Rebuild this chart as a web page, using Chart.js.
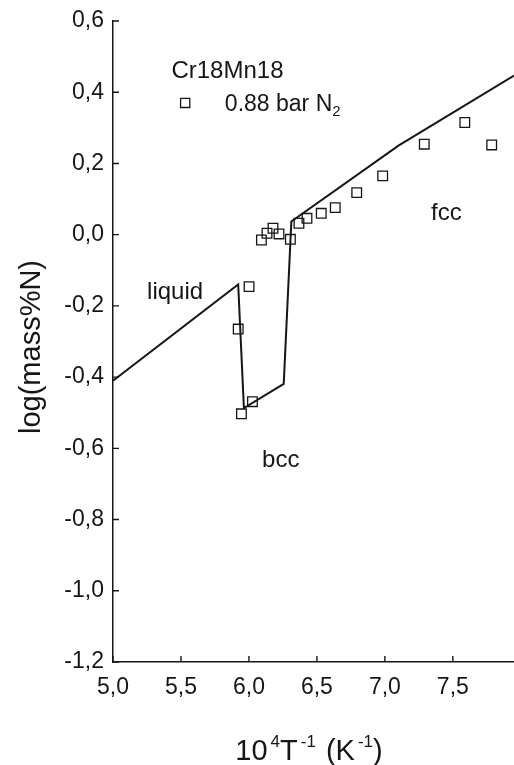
<!DOCTYPE html>
<html>
<head>
<meta charset="utf-8">
<script src="https://cdn.jsdelivr.net/npm/chart.js@4/dist/chart.umd.min.js"></script>
<style>
  html, body { margin: 0; padding: 0; background: #fff; overflow: hidden; }
  #wrap { width: 514px; height: 765px; }
</style>
</head>
<body>
<div id="wrap"><canvas id="chart"></canvas></div>
<script>
// calculated curve: liquid -> bcc -> fcc
const curveT = [5.0, 5.921, 5.963, 6.256, 6.312, 7.1, 7.95];
const curveN = [-0.41, -0.140, -0.487, -0.419, 0.037, 0.250, 0.447];

// measurements, Cr18Mn18 at 0.88 bar N2
const measT = [5.921, 6.001, 5.945, 6.026, 6.092, 6.133, 6.177, 6.221, 6.305,
               6.368, 6.427, 6.532, 6.635, 6.793, 6.984, 7.290, 7.588, 7.786];
const measN = [-0.265, -0.146, -0.503, -0.469, -0.015, 0.004, 0.018, 0.002, -0.013,
               0.032, 0.046, 0.060, 0.076, 0.118, 0.165, 0.254, 0.315, 0.252];

const xTicks = [5.0, 5.5, 6.0, 6.5, 7.0, 7.5];
const yTicks = [-1.2, -1.0, -0.8, -0.6, -0.4, -0.2, 0.0, 0.2, 0.4, 0.6];

// phase labels, placed in data units
const phaseLabels = [
    { text: 'liquid', x: 5.457, y: -0.163 },
    { text: 'bcc', x: 6.234, y: -0.633 },
    { text: 'fcc', x: 7.452, y: 0.061 }
];

const FONT = '"Liberation Sans", Arial, sans-serif';
const INK = '#161616';

const comma = v => (Math.abs(v) < 1e-9 ? 0 : v).toFixed(1).replace('.', ',');

// ticks pointing into the plot area
const innerTicks = {
    id: 'innerTicks',
    afterDatasetsDraw(chart) {
        const { ctx, chartArea: a, scales: { x, y } } = chart;
        ctx.save();
        ctx.strokeStyle = INK;
        ctx.lineWidth = 1.4;
        ctx.beginPath();
        x.ticks.forEach((t, i) => {
            const px = x.getPixelForTick(i);
            ctx.moveTo(px, a.bottom);
            ctx.lineTo(px, a.bottom - 6);
        });
        y.ticks.forEach((t, i) => {
            const py = y.getPixelForTick(i);
            ctx.moveTo(a.left, py);
            ctx.lineTo(a.left + 6, py);
        });
        ctx.stroke();
        ctx.restore();
    }
};

// draws a run of text pieces, some raised or lowered
function drawPieces(ctx, pieces, x, y, align) {
    let total = 0;
    pieces.forEach(p => {
        ctx.font = p.size + 'px ' + FONT;
        p.w = ctx.measureText(p.t).width + (p.gap || 0);
        total += p.w;
    });
    let cx = align === 'center' ? x - total / 2 : x;
    pieces.forEach(p => {
        ctx.font = p.size + 'px ' + FONT;
        ctx.fillText(p.t, cx, y + (p.dy || 0));
        cx += p.w;
    });
}

const annotations = {
    id: 'annotations',
    afterDraw(chart) {
        const { ctx, scales: { x, y } } = chart;
        ctx.save();
        ctx.fillStyle = INK;
        ctx.strokeStyle = INK;

        // phase names
        ctx.font = '24px ' + FONT;
        ctx.textAlign = 'center';
        ctx.textBaseline = 'middle';
        phaseLabels.forEach(l => {
            ctx.fillText(l.text, x.getPixelForValue(l.x), y.getPixelForValue(l.y));
        });

        // legend block
        ctx.textAlign = 'left';
        ctx.textBaseline = 'alphabetic';
        ctx.font = '24px ' + FONT;
        ctx.fillText('Cr18Mn18', x.getPixelForValue(5.43), y.getPixelForValue(0.440));

        ctx.save();
        ctx.fillStyle = 'rgba(0,0,0,0)';
        ctx.lineWidth = 1.3;
        Chart.helpers.drawPoint(ctx,
            { pointStyle: 'rect', radius: 6.5, rotation: 0, borderWidth: 1.3 },
            x.getPixelForValue(5.531), y.getPixelForValue(0.370));
        ctx.restore();

        drawPieces(ctx, [
            { t: '0.88 bar N', size: 23 },
            { t: '2', size: 15, dy: 5 }
        ], x.getPixelForValue(5.823), y.getPixelForValue(0.347), 'left');

        // y title
        ctx.save();
        ctx.translate(32, 347);
        ctx.rotate(-Math.PI / 2);
        ctx.textAlign = 'center';
        ctx.textBaseline = 'middle';
        ctx.font = '29px ' + FONT;
        ctx.fillText('log(mass%N)', 0, 0);
        ctx.restore();

        // x title: 10^4 T^-1 (K^-1)
        ctx.textAlign = 'left';
        ctx.textBaseline = 'alphabetic';
        drawPieces(ctx, [
            { t: '10', size: 29, gap: 3 },
            { t: '4', size: 17, dy: -13 },
            { t: 'T', size: 29, gap: 3 },
            { t: '-1', size: 17, dy: -13, gap: 10 },
            { t: '(K', size: 29, gap: 3 },
            { t: '-1', size: 17, dy: -13 },
            { t: ')', size: 29 }
        ], 309, 760, 'center');

        ctx.restore();
    }
};

const ctx = document.getElementById('chart').getContext('2d');

new Chart(ctx, {
    type: 'scatter',
    data: {
        datasets: [
            {
                label: '0.88 bar N2',
                data: measT.map((t, i) => ({ x: t, y: measN[i] })),
                pointStyle: 'rect',
                pointRadius: 6.8,
                pointHoverRadius: 6.8,
                borderColor: INK,
                borderWidth: 1.3,
                backgroundColor: 'rgba(0,0,0,0)',
                showLine: false
            },
            {
                label: 'calculated',
                data: curveT.map((t, i) => ({ x: t, y: curveN[i] })),
                showLine: true,
                borderColor: INK,
                borderWidth: 2,
                pointRadius: 0,
                pointHoverRadius: 0,
                tension: 0,
                fill: false
            }
        ]
    },
    options: {
        responsive: true,
        maintainAspectRatio: false,
        animation: false,
        events: [],
        layout: { autoPadding: false, padding: { top: 21, right: 0, bottom: 0, left: 0 } },
        plugins: {
            legend: { display: false },
            tooltip: { enabled: false }
        },
        scales: {
            x: {
                type: 'linear',
                min: 5.0,
                max: 7.95,
                afterBuildTicks: s => { s.ticks = xTicks.map(v => ({ value: v })); },
                afterFit: s => { s.height = 103; s.paddingRight = 0; s.paddingLeft = 0; },
                grid: { drawOnChartArea: false, drawTicks: false },
                border: { display: true, color: INK, width: 1.5 },
                ticks: {
                    padding: 12,
                    color: INK,
                    font: { family: FONT, size: 23 },
                    callback: v => comma(v)
                }
            },
            y: {
                type: 'linear',
                min: -1.2,
                max: 0.6,
                afterBuildTicks: s => { s.ticks = yTicks.map(v => ({ value: v })); },
                afterFit: s => { s.width = 113; s.paddingTop = 0; s.paddingBottom = 0; },
                grid: { drawOnChartArea: false, drawTicks: false },
                border: { display: true, color: INK, width: 1.5 },
                ticks: {
                    padding: 9,
                    color: INK,
                    font: { family: FONT, size: 23 },
                    callback: v => comma(v)
                }
            }
        }
    },
    plugins: [innerTicks, annotations]
});
</script>
</body>
</html>
